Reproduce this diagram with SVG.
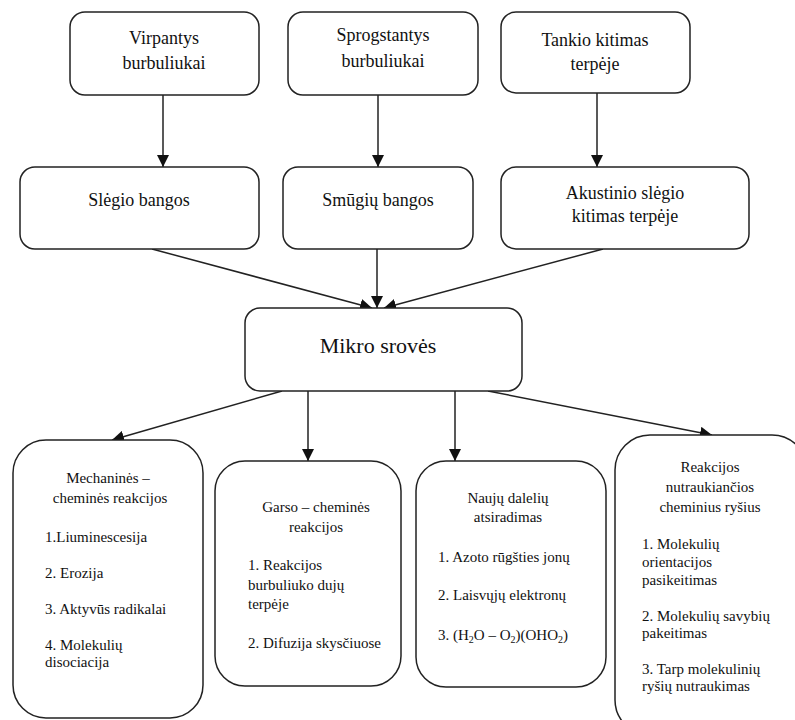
<svg xmlns="http://www.w3.org/2000/svg" width="795" height="720" viewBox="0 0 795 720" font-family="Times New Roman, Liberation Serif, serif">
<style>
.box{fill:#fff;stroke:#222;stroke-width:1.5}
.tx{font-family:'Times New Roman','Liberation Serif',serif;fill:#111}
.m18{font-size:18px;text-anchor:middle}
.m22{font-size:22px;text-anchor:middle}
.c15{font-size:15px;text-anchor:middle}
.l15{font-size:15px}
.edge{stroke:#222;stroke-width:1.5;fill:none;marker-end:url(#arr)}
</style>
<defs>
<marker id="arr" viewBox="0 0 10 10" refX="10" refY="5" markerWidth="12" markerHeight="12" markerUnits="userSpaceOnUse" orient="auto">
<path d="M0,0 L10,5 L0,10 z" fill="#111"/>
</marker>
</defs>
<rect width="795" height="720" fill="#fff"/>
<g id="connectors">
<line class="edge" x1="163" y1="95" x2="163" y2="167"/>
<line class="edge" x1="378" y1="95" x2="378" y2="167"/>
<line class="edge" x1="597" y1="93" x2="597" y2="167"/>
<line class="edge" x1="152" y1="249" x2="372" y2="308"/>
<line class="edge" x1="377" y1="249" x2="377" y2="308"/>
<line class="edge" x1="603" y1="249" x2="384" y2="308"/>
<line class="edge" x1="282" y1="391" x2="112" y2="440"/>
<line class="edge" x1="308" y1="391" x2="308" y2="461"/>
<line class="edge" x1="455" y1="391" x2="455" y2="461"/>
<line class="edge" x1="488" y1="391" x2="712" y2="435"/>
</g>
<g id="n-virpantys" class="tx">
<rect class="box" x="70" y="12" width="189" height="83" rx="15"/>
<text class="m18" x="164" y="44">Virpantys</text>
<text class="m18" x="164" y="69">burbuliukai</text>
</g>
<g id="n-sprogstantys" class="tx">
<rect class="box" x="288" y="12" width="190" height="83" rx="15"/>
<text class="m18" x="383" y="41">Sprogstantys</text>
<text class="m18" x="383" y="67">burbuliukai</text>
</g>
<g id="n-tankio" class="tx">
<rect class="box" x="501" y="12" width="189" height="81" rx="15"/>
<text class="m18" x="595" y="46">Tankio kitimas</text>
<text class="m18" x="595" y="70">terpėje</text>
</g>
<g id="n-slegio" class="tx">
<rect class="box" x="20" y="167" width="239" height="82" rx="15"/>
<text class="m18" x="139" y="206">Slėgio bangos</text>
</g>
<g id="n-smugiu" class="tx">
<rect class="box" x="283" y="167" width="190" height="82" rx="15"/>
<text class="m18" x="378" y="206">Smūgių bangos</text>
</g>
<g id="n-akustinio" class="tx">
<rect class="box" x="501" y="167" width="248" height="82" rx="15"/>
<text class="m18" x="625" y="199">Akustinio slėgio</text>
<text class="m18" x="625" y="222">kitimas terpėje</text>
</g>
<g id="n-mikro" class="tx">
<rect class="box" x="245" y="308" width="277" height="83" rx="15"/>
<text class="m22" x="378" y="353">Mikro srovės</text>
</g>
<g id="n-mechanines" class="tx">
<rect class="box" x="13" y="440" width="190" height="278" rx="33"/>
<text class="c15" x="108" y="483">Mechaninės –</text>
<text class="c15" x="110" y="503">cheminės reakcijos</text>
<text class="l15" x="45" y="542">1.Liuminescesija</text>
<text class="l15" x="45" y="578">2. Erozija</text>
<text class="l15" x="45" y="614">3. Aktyvūs radikalai</text>
<text class="l15" x="45" y="650">4. Molekulių</text>
<text class="l15" x="45" y="667">disociacija</text>
</g>
<g id="n-garso" class="tx">
<rect class="box" x="215" y="461" width="186" height="225" rx="30"/>
<text class="c15" x="316" y="512">Garso – cheminės</text>
<text class="c15" x="316" y="532">reakcijos</text>
<text class="l15" x="248" y="570">1. Reakcijos</text>
<text class="l15" x="248" y="590">burbuliuko dujų</text>
<text class="l15" x="248" y="609">terpėje</text>
<text class="l15" x="248" y="648">2. Difuzija skysčiuose</text>
</g>
<g id="n-nauju" class="tx">
<rect class="box" x="416" y="461" width="190" height="226" rx="30"/>
<text class="c15" x="508" y="503">Naujų dalelių</text>
<text class="c15" x="508" y="522">atsiradimas</text>
<text class="l15" x="438" y="562">1. Azoto rūgšties jonų</text>
<text class="l15" x="438" y="600">2. Laisvųjų elektronų</text>
<text class="l15" x="438" y="640">3. (H<tspan font-size="10" dy="3">2</tspan><tspan dy="-3">O – O</tspan><tspan font-size="10" dy="3">2</tspan><tspan dy="-3">)(OHO</tspan><tspan font-size="10" dy="3">2</tspan><tspan dy="-3">)</tspan></text>
</g>
<g id="n-reakcijos" class="tx">
<rect class="box" x="615" y="435" width="192" height="300" rx="35"/>
<text class="c15" x="710" y="472">Reakcijos</text>
<text class="c15" x="710" y="492">nutraukiančios</text>
<text class="c15" x="710" y="512">cheminius ryšius</text>
<text class="l15" x="642" y="549">1. Molekulių</text>
<text class="l15" x="642" y="567">orientacijos</text>
<text class="l15" x="642" y="585">pasikeitimas</text>
<text class="l15" x="642" y="621">2. Molekulių savybių</text>
<text class="l15" x="642" y="638">pakeitimas</text>
<text class="l15" x="642" y="674">3. Tarp molekulinių</text>
<text class="l15" x="642" y="691">ryšių nutraukimas</text>
</g>
</svg>
